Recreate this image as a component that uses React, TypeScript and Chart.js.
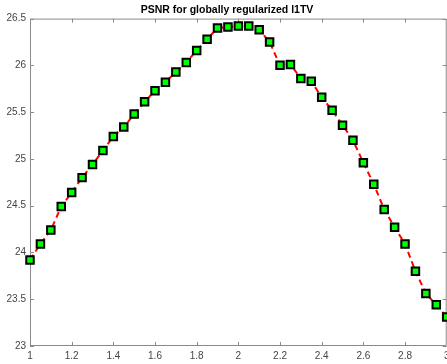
import React, { useEffect, useRef } from "react";
import { Chart, registerables } from "chart.js";

Chart.register(...registerables);

const xValues: number[] = [
  1.0, 1.05, 1.1, 1.15, 1.2, 1.25, 1.3, 1.35, 1.4, 1.45,
  1.5, 1.55, 1.6, 1.65, 1.7, 1.75, 1.8, 1.85, 1.9, 1.95,
  2.0, 2.05, 2.1, 2.15, 2.2, 2.25, 2.3, 2.35, 2.4, 2.45,
  2.5, 2.55, 2.6, 2.65, 2.7, 2.75, 2.8, 2.85, 2.9, 2.95, 3.0,
];
const psnrValues: number[] = [
  23.92, 24.09, 24.24, 24.49, 24.64, 24.80, 24.94, 25.09, 25.24, 25.34,
  25.48, 25.61, 25.73, 25.82, 25.93, 26.03, 26.16, 26.28, 26.40, 26.41,
  26.42, 26.42, 26.38, 26.25, 26.00, 26.01, 25.86, 25.83, 25.66, 25.52,
  25.36, 25.20, 24.96, 24.73, 24.46, 24.27, 24.09, 23.80, 23.56, 23.44, 23.31,
];
const xTicks: number[] = [1, 1.2, 1.4, 1.6, 1.8, 2, 2.2, 2.4, 2.6, 2.8, 3];
const yTicks: number[] = [23, 23.5, 24, 24.5, 25, 25.5, 26, 26.5];
const titleText = "PSNR for globally regularized l1TV";

const AXIS_COLOR = "#8a8a8a";
const LABEL_COLOR = "#444444";
const FONT = "'Liberation Sans', Arial, Helvetica, sans-serif";

const boxPlugin = {
  id: "matlabBox",
  beforeDatasetsDraw(chart: any) {
    const { ctx, chartArea, scales } = chart;
    const { left, right, top, bottom } = chartArea;
    ctx.save();
    ctx.strokeStyle = AXIS_COLOR;
    ctx.lineWidth = 1;
    ctx.beginPath();
    ctx.rect(left + 0.5, top + 0.5, right - left - 1, bottom - top - 1);
    const tl = 4;
    for (const v of xTicks) {
      const px = Math.round(scales.x.getPixelForValue(v)) + 0.5;
      ctx.moveTo(px, bottom);
      ctx.lineTo(px, bottom - tl);
      ctx.moveTo(px, top);
      ctx.lineTo(px, top + tl);
    }
    for (const v of yTicks) {
      const py = Math.round(scales.y.getPixelForValue(v)) + 0.5;
      ctx.moveTo(left, py);
      ctx.lineTo(left + tl, py);
      ctx.moveTo(right, py);
      ctx.lineTo(right - tl, py);
    }
    ctx.stroke();
    ctx.restore();
  },
};

const fmt = (v: number) => String(+Number(v).toFixed(2));

const W = 454;
const H = 364;

export default function App() {
  const canvasRef = useRef<HTMLCanvasElement | null>(null);

  useEffect(() => {
    const canvas = canvasRef.current;
    if (!canvas) return;
    const chart = new Chart(canvas, {
      type: "line",
      data: {
        datasets: [
          {
            data: xValues.map((x, i) => ({ x, y: psnrValues[i] })),
            borderColor: "#ff0000",
            borderWidth: 2,
            borderDash: [6, 4],
            pointStyle: "rect",
            pointRadius: 5.3,
            pointBackgroundColor: "#00ff00",
            pointBorderColor: "#000000",
            pointBorderWidth: 2,
            tension: 0,
            clip: false as any,
          },
        ],
      },
      options: {
        animation: false,
        responsive: false,
        maintainAspectRatio: false,
        events: [],
        layout: { padding: { left: 0, right: 0, top: 0, bottom: 0 } },
        plugins: {
          legend: { display: false },
          tooltip: { enabled: false },
          title: {
            display: true,
            text: titleText,
            color: "#000000",
            font: { family: FONT, size: 10.5, weight: "bold" },
            padding: { top: 4, bottom: 2 },
          },
        },
        scales: {
          x: {
            type: "linear",
            min: 1,
            max: 3,
            afterBuildTicks: (scale: any) => {
              scale.ticks = xTicks.map((v) => ({ value: v }));
            },
            afterFit: (scale: any) => {
              scale.height = 18;
            },
            grid: { display: false, drawTicks: false },
            border: { display: false },
            ticks: {
              callback: (v: any) => fmt(v),
              color: LABEL_COLOR,
              font: { family: FONT, size: 10 },
              padding: 4,
              maxRotation: 0,
              autoSkip: false,
            },
          },
          y: {
            type: "linear",
            min: 23,
            max: 26.5,
            afterBuildTicks: (scale: any) => {
              scale.ticks = yTicks.map((v) => ({ value: v }));
            },
            afterFit: (scale: any) => {
              scale.width = 30;
            },
            grid: { display: false, drawTicks: false },
            border: { display: false },
            ticks: {
              callback: (v: any) => fmt(v),
              color: LABEL_COLOR,
              font: { family: FONT, size: 10 },
              padding: 4,
              autoSkip: false,
            },
          },
        },
      },
      plugins: [boxPlugin],
    });
    return () => chart.destroy();
  }, []);

  return (
    <div
      style={{
        position: "fixed",
        left: 0,
        top: 0,
        width: W,
        height: H,
        background: "#ffffff",
      }}
    >
      <canvas
        ref={canvasRef}
        width={W}
        height={H}
        style={{ width: W, height: H, display: "block" }}
      />
    </div>
  );
}
